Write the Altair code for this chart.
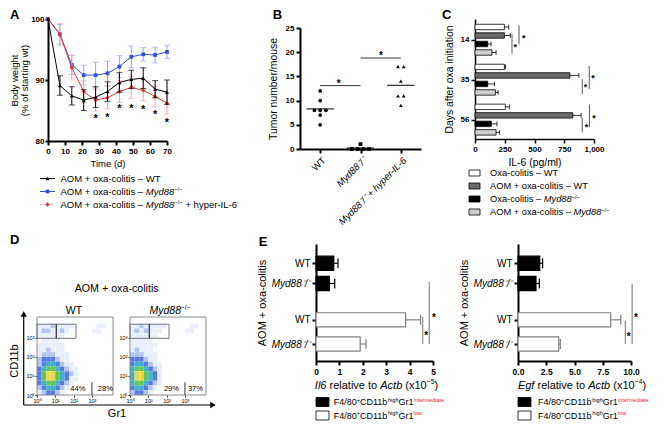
import altair as alt
import pandas as pd

FONT = "Liberation Sans"
RED_SUP = "#e8283c"

# ---------------- Panel A : body weight ----------------
a_days = [0, 7, 14, 21, 28, 35, 42, 49, 56, 63, 70]
a_xticks = [0, 10, 20, 30, 40, 50, 60, 70]
a_wt = [100, 89.1, 87.4, 86.7, 87.2, 88.1, 89.6, 90.1, 90.3, 88.5, 88.0]
a_wt_err = [0, 1.6, 1.5, 1.7, 1.7, 1.6, 1.6, 1.5, 1.7, 1.4, 2.0]
a_myd = [100, 97.5, 92.5, 90.8, 90.8, 91.1, 92.2, 93.8, 94.2, 94.1, 94.6]
a_myd_err = [0, 1.6, 1.6, 1.6, 2.1, 2.0, 1.8, 1.8, 1.1, 1.3, 1.1]
a_hyp = [100, 97.5, 92.0, 88.1, 86.7, 87.1, 88.1, 88.8, 88.3, 87.3, 86.2]
a_hyp_err = [0, 1.8, 2.0, 1.8, 1.8, 1.8, 1.8, 1.8, 1.7, 1.6, 1.8]
a_star_days = [28, 35, 42, 49, 56, 63, 70]
a_star_y = [84.1, 84.3, 85.7, 85.8, 85.5, 84.7, 83.5]

# ---------------- Panel B : tumor numbers ----------------
b_groups = ["WT", "Myd88⁻/⁻", "Myd88⁻/⁻ + hyper-IL-6"]
b_wt = [12, 10, 8, 8, 8, 7, 5]
b_myd = [1, 0, 0, 0, 0]
b_hyp = [17, 17, 14, 11, 11, 9]
b_sig = [(0, 1, 13.1), (1, 2, 18.8)]
b_sig_star = [(0.46, 14.0), (1.51, 19.8)]

# ---------------- Panel C : IL-6 ----------------
c_days = ["14", "35", "56"]
c_conds = ["Oxa-colitis – WT", "AOM + oxa-colitis – WT",
           "Oxa-colitis – Myd88", "AOM + oxa-colitis – Myd88"]
c_vals = [[247, 247, 107, 143], [247, 797, 107, 171], [255, 822, 137, 177]]
c_errs = [[36, 50, 28, 34], [10, 76, 56, 23], [34, 70, 48, 28]]
c_br1_x = [311, 901, 901]
c_br1 = [(0.85, 3.15), (1.45, 3.2), (1.25, 3.0)]
c_br2_x = [370, 960, 962]
c_br2 = [(-0.2, 2.05), (-0.1, 2.6), (-0.25, 2.4)]
c_star1 = [(339, 2), (928, 2), (937, 2)]
c_star2 = [(410, 1), (991, 1), (999, 1)]

# ---------------- Panel D : flow cytometry (density levels 0-6, rows top->bottom) ----------------
d_wt_rows = [
    "00000000000000000",
    "00000000000000000",
    "11121111000001100",
    "12211210000011000",
    "11111100000000000",
    "01111000000000000",
    "11111100000000000",
    "11211100000000000",
    "12221110000000000",
    "23332110000000000",
    "23443211000000000",
    "34554321100000000",
    "35665432100000000",
    "35665431100000000",
    "34554321000000000",
    "23443210000000000",
    "12332100000000000",
]
d_myd_rows = [
    "00000000000000000",
    "00000000000000000",
    "11211111000001100",
    "12121110000011000",
    "11111100000000000",
    "11111000000000000",
    "11111100000000000",
    "12111000000000000",
    "22211100000000000",
    "33321100000000000",
    "34432110000000000",
    "45543210000000000",
    "46654310000000000",
    "46654310000000000",
    "45543210000000000",
    "34432100000000000",
    "23321000000000000",
]
d_gate = (0.0, 2.13, 2.98, 3.72)
d_gate_split = 1.05
d_wt_pct = ["44%", "28%"]
d_wt_pct_x = [2.23, 3.73]
d_myd_pct = ["29%", "37%"]
d_myd_pct_x = [2.26, 3.57]
d_pct_y = 0.3
d_pct_split = 3.0

# ---------------- Panel E : Il6 / Egf ----------------
e_slots = [0, 1, 2.8, 4]
e_names = ["WT", "Myd88⁻/⁻", "WT", "Myd88⁻/⁻"]
e_pops = ["intermediate", "intermediate", "low", "low"]
e_il6 = [0.76, 0.57, 3.83, 1.89]
e_il6_err = [0.18, 0.23, 0.64, 0.25]
e_egf = [1.92, 1.59, 8.2, 3.6]
e_egf_err = [0.26, 0.30, 0.9, 0.15]
e_il6_sig = [(4.56, 2.66, 4.0), (4.84, 0.93, 4.0)]
e_il6_star = [(4.71, 3.45), (5.04, 2.56)]
e_egf_sig = [(9.5, 2.84, 4.0), (10.1, 1.02, 4.0)]
e_egf_star = [(9.8, 3.5), (10.44, 2.56)]

# ---------------- helpers ----------------
_CW = {" ": 278, "%": 889, "(": 333, ")": 333, "*": 389, "+": 584, "-": 333, ".": 278,
       "/": 278, "–": 556, "−": 584}
for _ch in "0123456789":
    _CW[_ch] = 556
_CW.update(dict(zip("ABCDEFGHIJKLMNOPQRSTUVWXYZ",
                    [667, 667, 722, 722, 667, 611, 778, 722, 278, 500, 667, 556, 833, 722, 778,
                     667, 778, 722, 667, 611, 722, 667, 944, 667, 667, 611])))
_CW.update(dict(zip("abcdefghijklmnopqrstuvwxyz",
                    [556, 556, 500, 556, 556, 278, 556, 556, 222, 222, 500, 222, 833, 556, 556,
                     556, 556, 333, 500, 278, 556, 500, 722, 500, 500, 500])))


def tw(s, size):
    return sum(_CW.get(ch, 556) for ch in s) * size / 1000.0


ONE = pd.DataFrame({"k": [0]})


def T(s, x, y, size, style="normal", weight="normal", color="black", align="left",
      baseline="alphabetic", angle=0):
    kw = dict(text=s, font=FONT, fontSize=size, fontStyle=style, fontWeight=weight,
              color=color, align=align, baseline=baseline)
    if angle:
        kw["angle"] = angle
    return alt.Chart(ONE).mark_text(**kw).encode(x=alt.value(x), y=alt.value(y))


def rich(pieces, x, y, size, anchor="left"):
    items, off = [], 0.0
    for text, kind in pieces:
        sup = kind in ("s", "sr")
        fs = size * 0.62 if sup else size
        lead = len(text) - len(text.lstrip(" "))
        items.append((text.strip(" "), kind, fs, -size * 0.38 if sup else 0.0,
                      off + tw(" " * lead, fs)))
        off += tw(text, fs)
    x0 = x - off / 2.0 if anchor == "center" else x
    return [T(t, x0 + o, y + dy, fs, style="italic" if k == "i" else "normal",
              color=RED_SUP if k == "sr" else "black")
            for t, k, fs, dy, o in items if t]


def rule_px(x1, y1, x2, y2, color="black", width=1.0, dash=None):
    kw = dict(color=color, strokeWidth=width)
    if dash:
        kw["strokeDash"] = dash
    return alt.Chart(ONE).mark_rule(**kw).encode(
        x=alt.value(x1), y=alt.value(y1), x2=alt.value(x2), y2=alt.value(y2))


def sym(x, y, shape, color, size):
    return alt.Chart(ONE).mark_point(shape=shape, filled=True, color=color, size=size,
                                     opacity=1).encode(x=alt.value(x), y=alt.value(y))


def box_px(x1, y1, x2, y2, fill, stroke, sw=0.8, fo=1.0):
    return alt.Chart(ONE).mark_rect(fill=fill, fillOpacity=fo, stroke=stroke,
                                    strokeWidth=sw).encode(
        x=alt.value(x1), x2=alt.value(x2), y=alt.value(y1), y2=alt.value(y2))


def spacer(w):
    return alt.Chart(ONE).mark_rule(strokeOpacity=0).encode(
        x=alt.value(0), y=alt.value(0), y2=alt.value(1)).properties(width=w, height=1)


def label_expr(values, labels):
    expr = "''"
    for v, l in reversed(list(zip(values, labels))):
        expr = f"datum.value == {v} ? '{l}' : {expr}"
    return expr


def star_text(df, X, Y, size=11):
    return alt.Chart(df).mark_text(text="*", font=FONT, fontSize=size, fontWeight="bold",
                                   color="black", baseline="middle", dy=3).encode(x=X("x"), y=Y("y"))


INDEP = dict(color="independent", fill="independent", stroke="independent", shape="independent")

# ================= Panel A =================
def ax_a_x(f):
    return alt.X(f, type="quantitative", scale=alt.Scale(domain=[0, 70], nice=False, zero=False),
                 axis=alt.Axis(values=a_xticks, title="Time (d)", titleFontSize=9.5,
                               titlePadding=3, domainWidth=2, tickWidth=2))


def ax_a_y(f):
    return alt.Y(f, type="quantitative", scale=alt.Scale(domain=[80, 100], nice=False, zero=False),
                 axis=alt.Axis(values=[80, 90, 100], title=["Body weight", "(% of starting wt)"],
                               titleFontSize=9.5, titlePadding=1, titleLineHeight=10.5,
                               tickSize=3, labelPadding=1, domainWidth=2, tickWidth=2))


a_style = {
    "Myd88": dict(c="#2f52d8", e="#95a8ee", shape="square", size=14, data=(a_myd, a_myd_err)),
    "Hyper": dict(c="#d93a3a", e="#f2a2a2", shape="diamond", size=20, data=(a_hyp, a_hyp_err)),
    "WT": dict(c="black", e="black", shape="triangle-up", size=16, data=(a_wt, a_wt_err)),
}
a_layers = []
for name, st in a_style.items():
    m, e = st["data"]
    df = pd.DataFrame(dict(day=a_days, mean=m, err=e))
    df["lo"] = df["mean"] - df["err"]
    df["hi"] = df["mean"] + df["err"]
    dfe = df[df["err"] > 0]
    a_layers.append(alt.Chart(dfe).mark_rule(color=st["e"], strokeWidth=1).encode(
        x=ax_a_x("day"), y=ax_a_y("lo"), y2="hi"))
    for f in ("lo", "hi"):
        a_layers.append(alt.Chart(dfe).mark_tick(orient="horizontal", size=6, thickness=1,
                                                 color=st["e"]).encode(x=ax_a_x("day"), y=ax_a_y(f)))
    a_layers.append(alt.Chart(df).mark_line(color=st["c"], strokeWidth=1).encode(
        x=ax_a_x("day"), y=ax_a_y("mean")))
    a_layers.append(alt.Chart(df).mark_point(shape=st["shape"], filled=True, color=st["c"],
                                             size=st["size"], opacity=1).encode(
        x=ax_a_x("day"), y=ax_a_y("mean")))
a_layers.append(star_text(pd.DataFrame(dict(x=a_star_days, y=a_star_y)), ax_a_x, ax_a_y))
# legend
a_leg_y = [159.5, 172.5, 185.5]
a_leg = [("WT", [("AOM + oxa-colitis – WT", "n")]),
         ("Myd88", [("AOM + oxa-colitis – ", "n"), ("Myd88", "i"), ("−/−", "s")]),
         ("Hyper", [("AOM + oxa-colitis – ", "n"), ("Myd88", "i"), ("−/−", "s"),
                    (" + hyper-IL-6", "n")])]
for cy, (name, pieces) in zip(a_leg_y, a_leg):
    st = a_style[name]
    if name == "Hyper":
        a_layers.append(rule_px(-8, cy, 7, cy, color=st["e"], width=1.2, dash=[1.5, 1.5]))
    else:
        a_layers.append(rule_px(-8, cy, 7, cy, color=st["c"], width=1))
    a_layers.append(sym(-0.5, cy, st["shape"], st["c"], st["size"]))
    a_layers += rich(pieces, 12.5, cy + 0.35 * 9.5, 9.5)
a_layers.append(T("A", -38, -10, 13, weight="bold", baseline="top"))
chart_a = alt.layer(*a_layers).properties(width=119, height=122)

# ================= Panel B =================
b_vals = [b_wt, b_myd, b_hyp]
b_rows = []
for g, vals in enumerate(b_vals):
    counts, seen = {}, {}
    for v in vals:
        counts[v] = counts.get(v, 0) + 1
    for v in vals:
        n, k = counts[v], seen.get(v, 0)
        seen[v] = k + 1
        b_rows.append(dict(g=g, v=v, x=g + (k - (n - 1) / 2.0) * 0.142))
b_df = pd.DataFrame(b_rows)
b_mean = pd.DataFrame([dict(x=g - 0.34, x2=g + 0.34, y=sum(v) / len(v)) for g, v in enumerate(b_vals)])


def ax_b_x(f):
    return alt.X(f, type="quantitative", scale=alt.Scale(domain=[-0.5, 2.5], nice=False, zero=False),
                 axis=alt.Axis(values=[0, 1, 2], labelExpr=label_expr([0, 1, 2], b_groups),
                               labelAngle=315, labelFontWeight="normal", labelFontSize=9.5,
                               labelFontStyle={"condition": {"test": "datum.value == 0", "value": "normal"},
                                               "value": "italic"},
                               title=None, domainWidth=2, tickWidth=2))


def ax_b_y(f):
    return alt.Y(f, type="quantitative",
                 scale=alt.Scale(domain=[0, 25], range=[130, 9], nice=False, zero=False),
                 axis=alt.Axis(values=[0, 5, 10, 15, 20, 25], title="Tumor number/mouse",
                               titleFontSize=10.4, titlePadding=7, domainWidth=2, tickWidth=2))


b_layers = [
    alt.Chart(b_df).mark_point(filled=True, size=14, color="black", opacity=1).encode(
        x=ax_b_x("x"), y=ax_b_y("v"),
        shape=alt.Shape("g:N", scale=alt.Scale(domain=[0, 1, 2], range=["circle", "square", "triangle-up"]),
                        legend=None)),
    alt.Chart(b_mean).mark_rule(color="black", strokeWidth=1).encode(x=ax_b_x("x"), x2="x2", y=ax_b_y("y")),
    alt.Chart(pd.DataFrame(b_sig, columns=["x", "x2", "y"])).mark_rule(color="black", strokeWidth=0.8).encode(
        x=ax_b_x("x"), x2="x2", y=ax_b_y("y")),
    star_text(pd.DataFrame(b_sig_star, columns=["x", "y"]), ax_b_x, ax_b_y, size=10),
    T("B", -27.3, -10, 13, weight="bold", baseline="top"),
]
chart_b = alt.layer(*b_layers).properties(width=121, height=130)

# ================= Panel C =================
C_GROUP = 4.7
C_HALF = 0.32
c_fill = ["white", "#6b6b6b", "black", "#cfcfcf"]
c_rows = []
for g in range(len(c_days)):
    for c, cond in enumerate(c_conds):
        s = g * C_GROUP + c
        v, e = c_vals[g][c], c_errs[g][c]
        c_rows.append(dict(cond=cond, s=s, y0=s - C_HALF, y1=s + C_HALF, x0=0, v=v, hi=v + e,
                           c0=s - 0.28, c1=s + 0.28))
c_df = pd.DataFrame(c_rows)
c_br = []
for g in range(len(c_days)):
    c_br.append(dict(x=c_br1_x[g], y=g * C_GROUP + c_br1[g][0], y2=g * C_GROUP + c_br1[g][1]))
    c_br.append(dict(x=c_br2_x[g], y=g * C_GROUP + c_br2[g][0], y2=g * C_GROUP + c_br2[g][1]))
c_br = pd.DataFrame(c_br)
c_st = pd.DataFrame([dict(x=x, y=g * C_GROUP + c) for g in range(3) for (x, c) in (c_star1[g], c_star2[g])])
c_tickpos = [g * C_GROUP + 1.5 for g in range(3)]


def ax_c_x(f):
    return alt.X(f, type="quantitative", scale=alt.Scale(domain=[0, 1000], nice=False, zero=False),
                 axis=alt.Axis(values=[0, 250, 500, 750, 1000], title="IL-6 (pg/ml)",
                               titleFontSize=10.4, titlePadding=4))


def ax_c_y(f):
    return alt.Y(f, type="quantitative",
                 scale=alt.Scale(domain=[-0.94, 13.18], reverse=True, nice=False, zero=False),
                 axis=alt.Axis(values=c_tickpos, labelExpr=label_expr(c_tickpos, c_days),
                               title="Days after oxa initiation", titleFontSize=10.4, titlePadding=6))


c_layers = [
    alt.Chart(c_df).mark_rect(stroke="black", strokeWidth=0.8).encode(
        x=ax_c_x("x0"), x2="v", y=ax_c_y("y0"), y2="y1",
        fill=alt.Fill("cond:N", scale=alt.Scale(domain=c_conds, range=c_fill), legend=None)),
    alt.Chart(c_df).mark_rule(color="black", strokeWidth=0.8).encode(x=ax_c_x("v"), x2="hi", y=ax_c_y("s")),
    alt.Chart(c_df).mark_rule(color="black", strokeWidth=0.8).encode(x=ax_c_x("hi"), y=ax_c_y("c0"), y2="c1"),
    alt.Chart(c_br).mark_rule(color="#444", strokeWidth=0.9).encode(x=ax_c_x("x"), y=ax_c_y("y"), y2="y2"),
    star_text(c_st, ax_c_x, ax_c_y, size=9),
    T("C", -33, -10, 13, weight="bold", baseline="top"),
]
c_leg_y = [154, 167, 180, 193]
c_leg = [[("Oxa-colitis – WT", "n")], [("AOM + oxa-colitis – WT", "n")],
         [("Oxa-colitis – ", "n"), ("Myd88", "i"), ("−/−", "s")],
         [("AOM + oxa-colitis – ", "n"), ("Myd88", "i"), ("−/−", "s")]]
for cy, pieces, fc in zip(c_leg_y, c_leg, c_fill):
    c_layers.append(box_px(-6, cy - 3, 5, cy + 3, fc, "black"))
    c_layers += rich(pieces, 15, cy + 0.35 * 9.3, 9.3)
chart_c = alt.layer(*c_layers).properties(width=119, height=120)

# ================= Panel D =================
D_COLORS = ["#e9eefc", "#b3c3f3", "#5b79e0", "#3bb3c9", "#62c45a", "#ecd94a"]


def dens_df(rows):
    recs = []
    n = len(rows)
    for r, line in enumerate(rows):
        j = n - 1 - r
        for i, ch in enumerate(line):
            lev = int(ch)
            if lev:
                recs.append(dict(x0=i * 0.25, x1=min((i + 1) * 0.25, 4.15),
                                 y0=j * 0.25, y1=min((j + 1) * 0.25, 4.1), lev=lev))
    return pd.DataFrame(recs)


def d_panel(rows, pct, pct_x, extra):
    dax = dict(domain=False, tickSize=2, tickWidth=0.8, labelFontSize=5.5, labelFontWeight="normal",
               labelPadding=1, title=None, values=[0, 1, 2, 3],
               labelExpr="'10' + ['⁰','¹','²','³'][datum.value]")

    def X(f):
        return alt.X(f, type="quantitative", scale=alt.Scale(domain=[0, 4.15], nice=False, zero=False),
                     axis=alt.Axis(**dax))

    def Y(f):
        return alt.Y(f, type="quantitative",
                     scale=alt.Scale(domain=[0, 4.1], range=[151, 73], nice=False, zero=False),
                     axis=alt.Axis(**dax))

    g0, g1, g2, g3 = d_gate
    layers = [
        alt.Chart(dens_df(rows)).mark_rect().encode(
            x=X("x0"), x2="x1", y=Y("y0"), y2="y1",
            color=alt.Color("lev:O", scale=alt.Scale(domain=[1, 2, 3, 4, 5, 6], range=D_COLORS), legend=None)),
        box_px(0, 73, 76, 151, "white", "#8a8a8a", sw=1, fo=0),
        alt.Chart(pd.DataFrame([dict(x0=g0, x1=g1, y0=g2, y1=g3)])).mark_rect(
            fill="white", fillOpacity=0, stroke="#777", strokeWidth=1).encode(
            x=X("x0"), x2="x1", y=Y("y0"), y2="y1"),
        alt.Chart(pd.DataFrame([dict(x=d_gate_split, y0=g2, y1=g3)])).mark_rule(
            color="black", strokeWidth=1).encode(x=X("x"), y=Y("y0"), y2="y1"),
        alt.Chart(pd.DataFrame([dict(x=d_pct_split, y0=0, y1=0.67)])).mark_rule(
            color="black", strokeWidth=0.8).encode(x=X("x"), y=Y("y0"), y2="y1"),
        alt.Chart(pd.DataFrame(dict(t=pct, x=pct_x, y=[d_pct_y] * len(pct)))).mark_text(
            font=FONT, fontSize=7.5, baseline="middle").encode(x=X("x"), y=Y("y"), text="t:N"),
    ]
    return alt.layer(*(layers + extra)).properties(width=76, height=151)


d1_extra = [
    T("WT", 37, 70, 10.5, align="center"),
    rule_px(-13.3, 161, -13.3, 72, width=1.2),
    sym(-13.3, 70, "triangle-up", "black", 40),
    rule_px(-13.3, 161, 174, 161, width=1.2),
    sym(176, 161, "triangle-right", "black", 40),
    T("CD11b", -22, 117, 11, align="center", baseline="middle", angle=270),
    T("Gr1", 80, 173, 11, align="center"),
    T("D", -27, -10, 13, weight="bold", baseline="top"),
] + rich([("AOM + oxa-colitis", "n")], 79.7, 48.3, 10.7, anchor="center")
d2_extra = rich([("Myd88", "i"), ("−/−", "s")], 40, 70, 10.5, anchor="center")
chart_d1 = d_panel(d_wt_rows, d_wt_pct, d_wt_pct_x, d1_extra)
chart_d2 = d_panel(d_myd_rows, d_myd_pct, d_myd_pct_x, d2_extra)


# ================= Panel E =================
def e_panel(vals, errs, xdom, xticks, xfmt, sig, stars, title_pieces, title_cx, width, leg_tx, letter):
    df = pd.DataFrame(dict(s=e_slots, pop=e_pops, v=vals, e=errs))
    df["x0"] = 0.0
    df["hi"] = df["v"] + df["e"]
    df["y0"] = df["s"] - 0.35
    df["y1"] = df["s"] + 0.35
    df["c0"] = df["s"] - 0.25
    df["c1"] = df["s"] + 0.25
    dfi = df[df["pop"] == "intermediate"]
    dfl = df[df["pop"] == "low"]

    def X(f):
        return alt.X(f, type="quantitative", scale=alt.Scale(domain=xdom, nice=False, zero=False),
                     axis=alt.Axis(values=xticks, format=xfmt, title=None, domainWidth=2, tickWidth=2,
                                   labelFontSize=8.5))

    def Y(f):
        return alt.Y(f, type="quantitative",
                     scale=alt.Scale(domain=[-0.955, 4.84], reverse=True, nice=False, zero=False),
                     axis=alt.Axis(values=e_slots, labelExpr=label_expr(e_slots, e_names),
                                   labelFontWeight="normal", labelFontSize=10,
                                   labelFontStyle={"condition": {"test": "datum.value == 1 || datum.value == 4",
                                                                 "value": "italic"}, "value": "normal"},
                                   title="AOM + oxa-colitis", titleFontSize=11, titlePadding=4,
                                   domainWidth=2, tickWidth=2))

    layers = []
    for d, fc, sc in ((dfi, "black", "black"), (dfl, "white", "#808080")):
        layers += [
            alt.Chart(d).mark_rule(strokeWidth=1.2, color=sc).encode(x=X("v"), x2="hi", y=Y("s")),
            alt.Chart(d).mark_rule(strokeWidth=1.2, color=sc).encode(x=X("hi"), y=Y("c0"), y2="c1"),
            alt.Chart(d).mark_rect(strokeWidth=1.2, fill=fc, stroke=sc).encode(
                x=X("x0"), x2="v", y=Y("y0"), y2="y1"),
        ]
    layers += [
        alt.Chart(pd.DataFrame(sig, columns=["x", "y", "y2"])).mark_rule(color="#8c8c8c", strokeWidth=1.2).encode(
            x=X("x"), y=Y("y"), y2="y2"),
        star_text(pd.DataFrame(stars, columns=["x", "y"]), X, Y, size=10),
    ]
    layers += rich(title_pieces, title_cx, 144.5, 11, anchor="center")
    leg = [("black", "black", "intermediate"), ("white", "black", "low")]
    for cy, (fc, sc, sup) in zip([158, 171.5], leg):
        layers.append(box_px(0, cy - 4.5, 13, cy + 4.5, fc, sc, sw=0.8))
        layers += rich([("F4/80", "n"), ("+", "s"), ("CD11b", "n"), ("high", "s"), ("Gr1", "n"), (sup, "sr")],
                       leg_tx, cy + 0.35 * 9, 9)
    if letter:
        layers.append(T(letter, -57.3, -8.3, 13, weight="bold", baseline="top"))
    return alt.layer(*layers).properties(width=width, height=117)


chart_e1 = e_panel(e_il6, e_il6_err, [0, 5], [0, 1, 2, 3, 4, 5], "d", e_il6_sig, e_il6_star,
                   [("Il6", "i"), (" relative to ", "n"), ("Actb", "i"), (" (x10", "n"), ("−5", "s"), (")", "n")],
                   60.5, 117, 17.7, "E")
chart_e2 = e_panel(e_egf, e_egf_err, [0, 10], [0, 2.5, 5, 7.5, 10], ".1f", e_egf_sig, e_egf_star,
                   [("Egf", "i"), (" relative to ", "n"), ("Actb", "i"), (" (x10", "n"), ("−4", "s"), (")", "n")],
                   64, 113, 20, None)

# ================= assemble =================
top = alt.hconcat(spacer(11), chart_a, spacer(133), chart_b, spacer(54), chart_c,
                  spacing=0, bounds="flush").resolve_scale(**INDEP)
bottom = alt.hconcat(chart_d1, spacer(17), chart_d2, spacer(110), chart_e1, spacer(85), chart_e2,
                     spacing=0, bounds="flush").resolve_scale(**INDEP)
chart = alt.vconcat(top, bottom, spacing=6).resolve_scale(**INDEP).properties(
    padding={"left": 0, "top": 0, "right": 0, "bottom": 0}, background="white"
).configure(font=FONT).configure_view(stroke="transparent").configure_axis(
    labelFont=FONT, titleFont=FONT, labelFontSize=8, labelFontWeight="bold", titleFontWeight="normal",
    titleFontSize=10, labelColor="black", titleColor="black", domainColor="black", tickColor="black",
    domainWidth=1.5, tickWidth=1.5, tickSize=4, labelPadding=2, grid=False, labelFlush=False,
    labelOverlap=False)

chart.save("out.html", embed_options={"renderer": "svg", "actions": False})
